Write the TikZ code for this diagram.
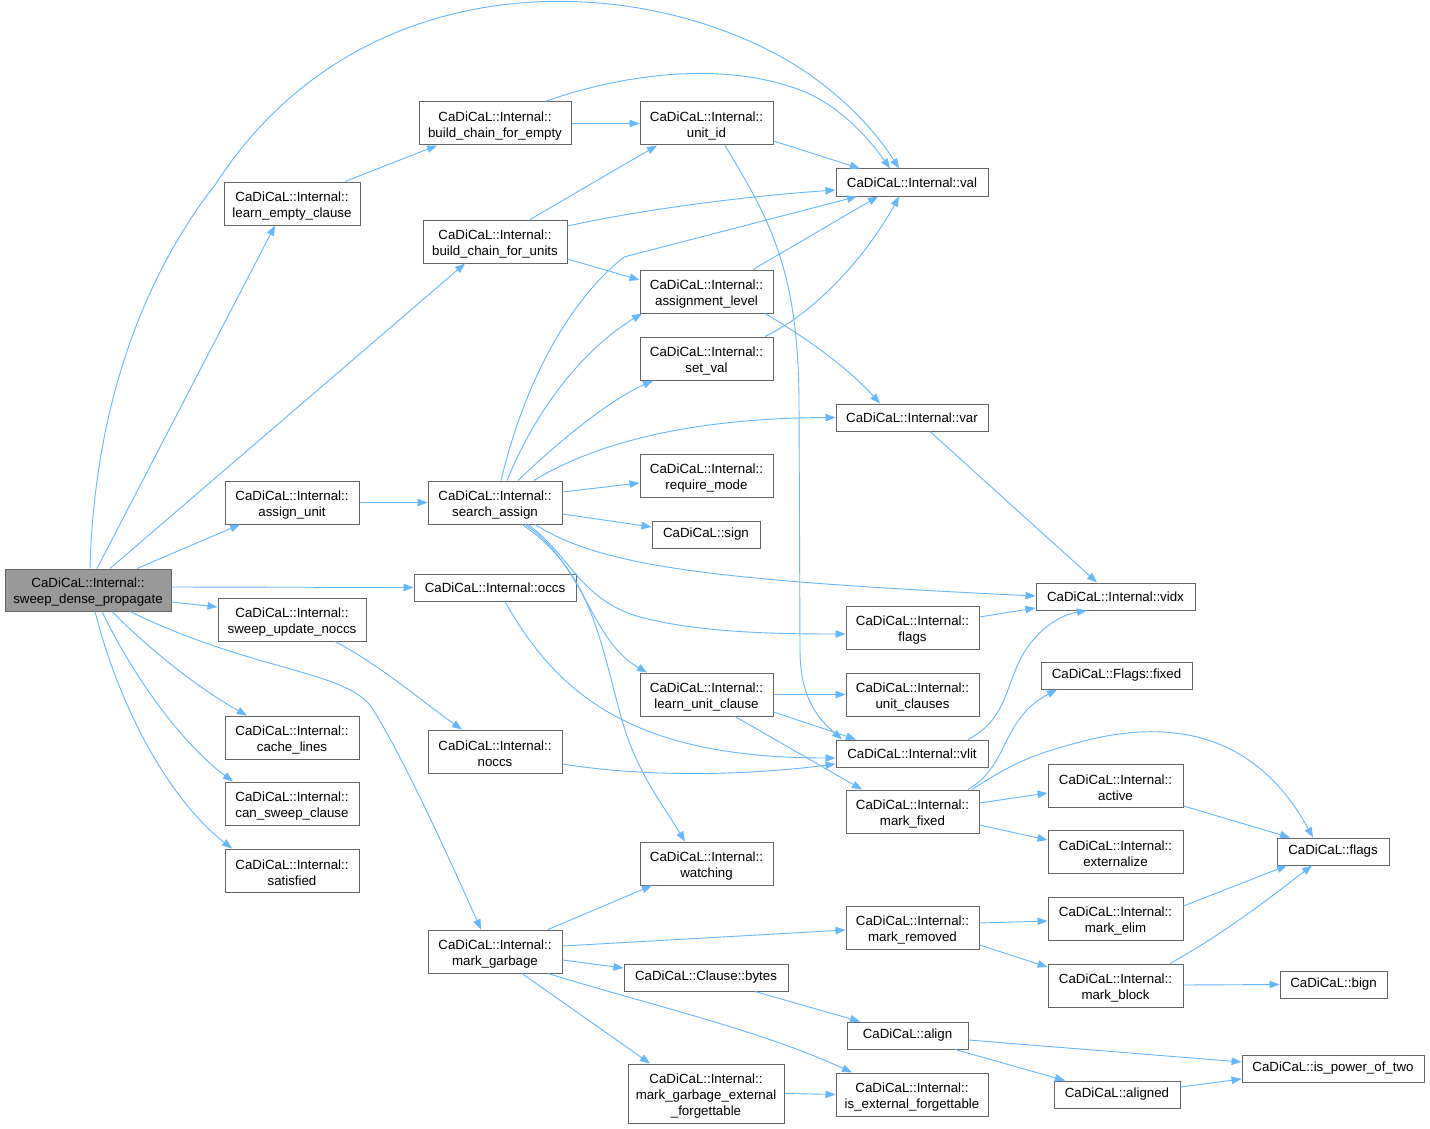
\documentclass[tikz,border=0pt]{standalone}
\usepackage{fontspec}
\setmainfont{Liberation Sans}
\usetikzlibrary{arrows.meta}
\definecolor{edgecol}{HTML}{63B8FF}
\definecolor{boxcol}{HTML}{666666}
\definecolor{mainfill}{HTML}{999999}
\newcommand\fstl{\rule{0pt}{14pt}}
\begin{document}
\begin{tikzpicture}[x=1pt,y=-1pt,
  box/.style={draw=boxcol, line width=1pt, fill=white, inner sep=0pt, align=center,
    font=\fontsize{13.3}{16}\selectfont},
  mainbox/.style={box, fill=mainfill},
  edge/.style={draw=edgecol, line width=0.9pt, -{Triangle[length=10pt,width=7.5pt]}}]
\path[use as bounding box] (0,0) rectangle (1430,1129);
\fill[white] (0,0) rectangle (1430,1129);

% nodes
\node[mainbox, minimum width=166pt, minimum height=42pt] (sdp) at (88,590) {\fstl CaDiCaL::Internal::\\sweep\_dense\_propagate};
\node[box, minimum width=136pt, minimum height=43pt] (lec) at (292,203.5) {\fstl CaDiCaL::Internal::\\learn\_empty\_clause};
\node[box, minimum width=152pt, minimum height=43pt] (bcfe) at (495,123.5) {\fstl CaDiCaL::Internal::\\build\_chain\_for\_empty};
\node[box, minimum width=133pt, minimum height=43pt] (uid) at (706.5,123.5) {\fstl CaDiCaL::Internal::\\unit\_id};
\node[box, minimum width=152pt, minimum height=27pt] (val) at (912,182.5) {CaDiCaL::Internal::val};
\node[box, minimum width=144pt, minimum height=43pt] (bcfu) at (495,241.5) {\fstl CaDiCaL::Internal::\\build\_chain\_for\_units};
\node[box, minimum width=133pt, minimum height=43pt] (al) at (706.5,291.5) {\fstl CaDiCaL::Internal::\\assignment\_level};
\node[box, minimum width=133pt, minimum height=43pt] (sv) at (706.5,358.5) {\fstl CaDiCaL::Internal::\\set\_val};
\node[box, minimum width=152pt, minimum height=27pt] (var) at (912,417.5) {CaDiCaL::Internal::var};
\node[box, minimum width=133pt, minimum height=43pt] (rm) at (706.5,475.5) {\fstl CaDiCaL::Internal::\\require\_mode};
\node[box, minimum width=108pt, minimum height=27pt] (sign) at (706,534.5) {CaDiCaL::sign};
\node[box, minimum width=134pt, minimum height=43pt] (au) at (292,502.5) {\fstl CaDiCaL::Internal::\\assign\_unit};
\node[box, minimum width=134pt, minimum height=43pt] (sa) at (495,502.5) {\fstl CaDiCaL::Internal::\\search\_assign};
\node[box, minimum width=162pt, minimum height=27pt] (occs) at (495,587.5) {CaDiCaL::Internal::occs};
\node[box, minimum width=148pt, minimum height=43pt] (sun) at (292,619.5) {\fstl CaDiCaL::Internal::\\sweep\_update\_noccs};
\node[box, minimum width=159pt, minimum height=27pt] (vidx) at (1115.5,596.5) {CaDiCaL::Internal::vidx};
\node[box, minimum width=133pt, minimum height=43pt] (iflags) at (912.5,627.5) {\fstl CaDiCaL::Internal::\\flags};
\node[box, minimum width=133pt, minimum height=43pt] (luc) at (706.5,694.5) {\fstl CaDiCaL::Internal::\\learn\_unit\_clause};
\node[box, minimum width=133pt, minimum height=43pt] (uc) at (912.5,694.5) {\fstl CaDiCaL::Internal::\\unit\_clauses};
\node[box, minimum width=151pt, minimum height=27pt] (ffixed) at (1116.5,675.5) {CaDiCaL::Flags::fixed};
\node[box, minimum width=152pt, minimum height=27pt] (vlit) at (912,753.5) {CaDiCaL::Internal::vlit};
\node[box, minimum width=134pt, minimum height=43pt] (noccs) at (495,751.5) {\fstl CaDiCaL::Internal::\\noccs};
\node[box, minimum width=134pt, minimum height=43pt] (cl) at (292,737.5) {\fstl CaDiCaL::Internal::\\cache\_lines};
\node[box, minimum width=134pt, minimum height=43pt] (csc) at (292,803.5) {\fstl CaDiCaL::Internal::\\can\_sweep\_clause};
\node[box, minimum width=134pt, minimum height=43pt] (sat) at (292,870.5) {\fstl CaDiCaL::Internal::\\satisfied};
\node[box, minimum width=133pt, minimum height=43pt] (mf) at (912.5,811.5) {\fstl CaDiCaL::Internal::\\mark\_fixed};
\node[box, minimum width=135pt, minimum height=43pt] (act) at (1115.5,785.5) {\fstl CaDiCaL::Internal::\\active};
\node[box, minimum width=135pt, minimum height=43pt] (ext) at (1115.5,851.5) {\fstl CaDiCaL::Internal::\\externalize};
\node[box, minimum width=112pt, minimum height=27pt] (cflags) at (1333,851.5) {CaDiCaL::flags};
\node[box, minimum width=133pt, minimum height=43pt] (wat) at (706.5,863.5) {\fstl CaDiCaL::Internal::\\watching};
\node[box, minimum width=134pt, minimum height=43pt] (mg) at (495,951.5) {\fstl CaDiCaL::Internal::\\mark\_garbage};
\node[box, minimum width=133pt, minimum height=43pt] (mr) at (912.5,927.5) {\fstl CaDiCaL::Internal::\\mark\_removed};
\node[box, minimum width=135pt, minimum height=43pt] (me) at (1115.5,918.5) {\fstl CaDiCaL::Internal::\\mark\_elim};
\node[box, minimum width=164pt, minimum height=27pt] (cb) at (706,977.5) {CaDiCaL::Clause::bytes};
\node[box, minimum width=135pt, minimum height=43pt] (mb) at (1115.5,985.5) {\fstl CaDiCaL::Internal::\\mark\_block};
\node[box, minimum width=107pt, minimum height=27pt] (bign) at (1333.5,984.5) {CaDiCaL::bign};
\node[box, minimum width=121pt, minimum height=27pt] (align) at (907.5,1035.5) {CaDiCaL::align};
\node[box, minimum width=182pt, minimum height=27pt] (ipt) at (1333,1068.5) {CaDiCaL::is\_power\_of\_two};
\node[box, minimum width=156pt, minimum height=59pt] (mgef) at (706,1093.5) {\fstl CaDiCaL::Internal::\\mark\_garbage\_external\\\_forgettable};
\node[box, minimum width=152pt, minimum height=43pt] (ief) at (912,1094.5) {\fstl CaDiCaL::Internal::\\is\_external\_forgettable};
\node[box, minimum width=126pt, minimum height=27pt] (aligned) at (1117,1094.5) {CaDiCaL::aligned};

% edges from sweep_dense_propagate
\path[edge] ([xshift=2pt]sdp.north) .. controls (95,380) and (160,255) .. (215,185) .. controls (360,-40) and (640,-30) .. (795,65) .. controls (840,93) and (875,130) .. ([xshift=-13pt]val.north);
\path[edge] ([xshift=9pt]sdp.north) -- ([xshift=-17pt]lec.south);
\path[edge] ([xshift=22pt]sdp.north) -- ([xshift=-30pt]bcfu.south);
\path[edge] ([xshift=49pt]sdp.north) -- ([xshift=-52pt]au.south);
\path[edge] ([yshift=3pt]sdp.east) -- (occs.west);
\path[edge] ([yshift=-12pt]sdp.east) -- ([yshift=12.5pt]sun.west);
\path[edge] ([xshift=42pt]sdp.south) .. controls (250,670) and (340,670) .. (370,705) .. controls (400,750) and (450,860) .. ([xshift=-14pt]mg.north);
\path[edge] ([xshift=24pt]sdp.south) .. controls (160,660) and (210,695) .. ([xshift=-45pt]cl.north);
\path[edge] ([xshift=14pt]sdp.south) .. controls (140,690) and (190,750) .. ([xshift=-59pt]csc.north);
\path[edge] ([xshift=7pt]sdp.south) .. controls (120,710) and (170,800) .. ([xshift=-60pt]sat.north);

% upper part
\path[edge] ([xshift=53pt]lec.north) -- ([xshift=-58pt]bcfe.south);
\path[edge] (bcfe.east) -- (uid.west);
\path[edge] ([xshift=50pt]bcfe.north) .. controls (620,75) and (720,60) .. (800,90) .. controls (840,105) and (870,140) .. ([xshift=-22pt]val.north);
\path[edge] ([yshift=-17.5pt]uid.east) -- ([xshift=-52pt]val.north);
\path[edge] ([xshift=18.5pt]uid.south) .. controls (770,220) and (798,270) .. (799,400) -- (800,650) .. controls (800,700) and (820,720) .. ([xshift=-70pt]vlit.north);
\path[edge] ([xshift=35pt]bcfu.north) -- ([xshift=-49.5pt]uid.south);
\path[edge] ([yshift=15.5pt]bcfu.east) .. controls (650,208) and (750,196) .. ([yshift=-7.5pt]val.west);
\path[edge] ([yshift=-17.5pt]bcfu.east) -- ([yshift=11.5pt]al.west);
\path[edge] ([xshift=46.5pt]al.north) -- ([xshift=-34pt]val.south);
\path[edge] ([xshift=58.5pt]al.south) .. controls (810,340) and (850,370) .. ([xshift=-32pt]var.north);
\path[edge] ([xshift=58.5pt]sv.north) .. controls (820,310) and (870,250) .. ([xshift=-13pt]val.south);

% search_assign
\path[edge] (au.east) -- (sa.west);
\path[edge] ([xshift=6pt]sa.north) .. controls (525,380) and (570,300) .. (624,257) -- ([xshift=-55pt]val.south);
\path[edge] ([xshift=12pt]sa.north) .. controls (540,400) and (590,345) .. ([xshift=-64.5pt]al.south);
\path[edge] ([xshift=23pt]sa.north) .. controls (560,440) and (610,400) .. ([xshift=-53.5pt]sv.south);
\path[edge] ([xshift=39pt]sa.north) .. controls (600,440) and (700,418) .. (var.west);
\path[edge] ([yshift=10.5pt]sa.east) -- ([yshift=-7.5pt]rm.west);
\path[edge] ([yshift=-11.5pt]sa.east) -- ([yshift=7.5pt]sign.west);
\path[edge] ([xshift=40pt]sa.south) .. controls (600,565) and (700,580) .. ([yshift=0.5pt]vidx.west);
\path[edge] ([xshift=33pt]sa.south) .. controls (570,555) and (580,600) .. (640,617) .. controls (700,633) and (780,634) .. ([yshift=-6.5pt]iflags.west);
\path[edge] ([xshift=30pt]sa.south) .. controls (585,565) and (590,640) .. ([xshift=-59.5pt]luc.north);
\path[edge] ([xshift=27pt]sa.south) .. controls (590,570) and (600,640) .. (620,713) .. controls (635,770) and (660,800) .. ([xshift=-21.5pt]wat.north);

% occs / noccs / vidx
\path[edge] ([xshift=10pt]occs.south) .. controls (560,700) and (640,758) .. ([yshift=-4.5pt]vlit.west);
\path[edge] ([xshift=43pt]sun.south) .. controls (380,665) and (420,700) .. ([xshift=-33pt]noccs.north);
\path[edge] ([yshift=-12.5pt]noccs.east) .. controls (650,778) and (750,775) .. ([yshift=-10.5pt]vlit.west);
\path[edge] ([xshift=18pt]var.south) -- ([xshift=-18.5pt]vidx.north);
\path[edge] ([yshift=10.5pt]iflags.east) -- ([yshift=-11.5pt]vidx.west);
\path[edge] ([xshift=56pt]vlit.north) .. controls (1005,720) and (1005,690) .. (1020,660) .. controls (1035,630) and (1060,615) .. ([xshift=-28.5pt]vidx.south);

% learn_unit_clause / mark_fixed
\path[edge] (luc.east) -- (uc.west);
\path[edge] ([yshift=-17.5pt]luc.east) -- ([xshift=-56pt]vlit.north);
\path[edge] ([xshift=28.5pt]luc.south) -- ([xshift=-50.5pt]mf.north);
\path[edge] ([xshift=55.5pt]mf.north) .. controls (1010,765) and (1000,720) .. ([xshift=-59.5pt]ffixed.south);
\path[edge] ([xshift=59.5pt]mf.north) .. controls (1010,765) and (1030,755) .. (1080,742) .. controls (1180,715) and (1260,740) .. ([xshift=-20pt]cflags.north);
\path[edge] ([yshift=8.5pt]mf.east) -- ([yshift=-7.5pt]act.west);
\path[edge] ([yshift=-13.5pt]mf.east) -- ([yshift=11.5pt]ext.west);
\path[edge] ([yshift=-20.5pt]act.east) -- ([xshift=-43pt]cflags.north);
\path[edge] ([yshift=12.5pt]me.east) -- ([xshift=-46pt]cflags.south);
\path[edge] ([xshift=54.5pt]mb.north) .. controls (1230,930) and (1280,890) .. ([xshift=-21pt]cflags.south);
\path[edge] ([yshift=0.5pt]mb.east) -- (bign.west);

% mark_garbage
\path[edge] ([xshift=53pt]mg.north) -- ([xshift=-54.5pt]wat.south);
\path[edge] ([yshift=5.5pt]mg.east) -- ([yshift=-2.5pt]mr.west);
\path[edge] ([yshift=-8.5pt]mg.east) -- ([yshift=9.5pt]cb.west);
\path[edge] ([xshift=27pt]mg.south) -- ([xshift=-56pt]mgef.north);
\path[edge] ([xshift=53pt]mg.south) .. controls (650,1005) and (760,1030) .. ([xshift=-60pt]ief.north);
\path[edge] ([yshift=4.5pt]mr.east) -- ([yshift=-2.5pt]me.west);
\path[edge] ([yshift=-17.5pt]mr.east) -- ([yshift=18.5pt]mb.west);
\path[edge] ([xshift=49pt]cb.south) -- ([xshift=-47.5pt]align.north);
\path[edge] ([yshift=-4.5pt]align.east) -- ([yshift=6.5pt]ipt.west);
\path[edge] ([xshift=47.5pt]align.south) -- ([xshift=-52pt]aligned.north);
\path[edge] ([yshift=7.5pt]aligned.east) -- ([yshift=-10.5pt]ipt.west);
\path[edge] (mgef.east) -- (ief.west);
\end{tikzpicture}
\end{document}
